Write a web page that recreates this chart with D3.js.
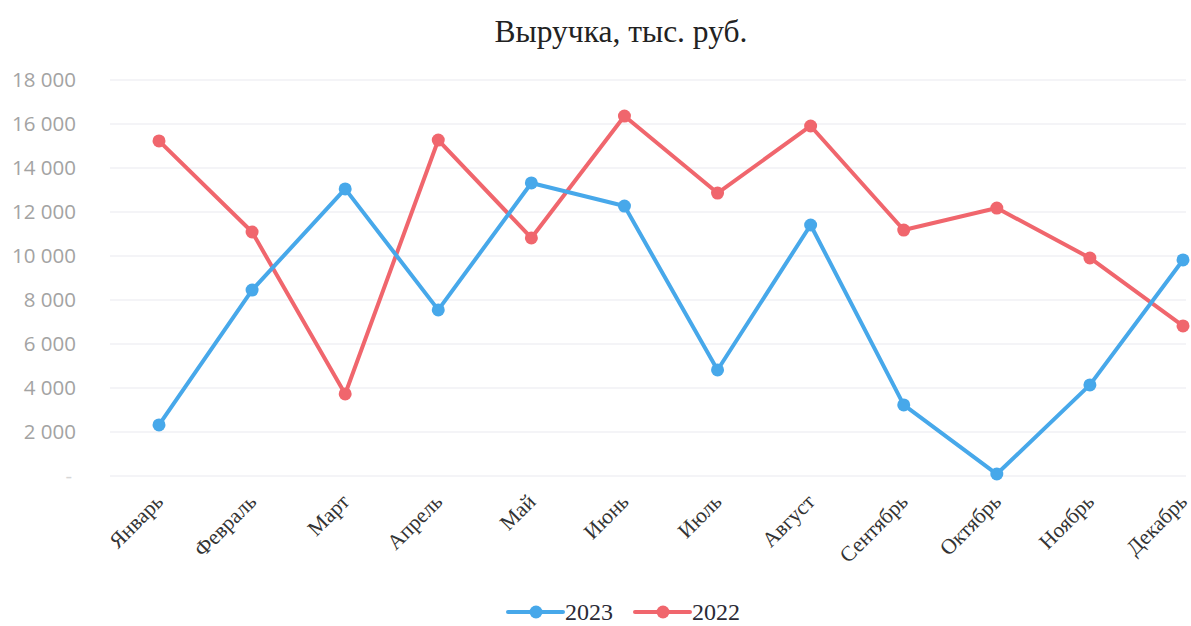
<!DOCTYPE html>
<html>
<head>
<meta charset="utf-8">
<script src="https://cdn.jsdelivr.net/npm/d3@7"></script>
<style>
  body { margin: 0; background: #fff; }
  svg { display: block; }
</style>
</head>
<body>
<div id="chart"></div>
<script>
var months = ["Январь", "Февраль", "Март", "Апрель", "Май", "Июнь",
  "Июль", "Август", "Сентябрь", "Октябрь", "Ноябрь", "Декабрь"];
var sales2023 = [2320, 8450, 13050, 7550, 13320, 12270, 4820, 11410, 3230, 90, 4140, 9820];
var sales2022 = [15230, 11090, 3730, 15270, 10820, 16360, 12860, 15910, 11180, 12180, 9910, 6820];
var yTicks = [0, 2000, 4000, 6000, 8000, 10000, 12000, 14000, 16000, 18000];

var svgWidth = 1191;
var svgHeight = 626;

var svg = d3.select("#chart")
  .append("svg")
  .attr("width", svgWidth)
  .attr("height", svgHeight);

// scales
var x = d3.scalePoint()
  .domain(months)
  .range([159, 1183]);

var y = d3.scaleLinear()
  .domain([0, 18000])
  .range([476, 80]);

var fmt = function(d) {
  if (d === 0) return "-";
  return d3.format(",")(d).replace(",", " ");
};

// title
svg.append("text")
  .attr("x", 621)
  .attr("y", 42)
  .attr("text-anchor", "middle")
  .style("font-family", "'Liberation Serif', 'DejaVu Serif', serif")
  .style("font-size", "31.5px")
  .style("fill", "#222")
  .text("Выручка, тыс. руб.");

// grid lines
svg.append("g")
  .selectAll("line")
  .data(yTicks)
  .enter()
  .append("line")
  .attr("x1", 110)
  .attr("x2", 1186)
  .attr("y1", d => y(d))
  .attr("y2", d => y(d))
  .attr("stroke", "#f1f1f4")
  .attr("stroke-width", 1.5);

// y axis labels
var leftAxis = d3.axisLeft(y)
  .tickValues(yTicks)
  .tickFormat(fmt)
  .tickSize(0)
  .tickPadding(0);

var yAxis = svg.append("g")
  .attr("transform", "translate(76, 0)")
  .call(leftAxis);
yAxis.select(".domain").remove();
yAxis.selectAll("text")
  .style("font-family", "'Open Sans', sans-serif")
  .style("font-size", "20.5px")
  .style("fill", "#a3a3a3");
yAxis.selectAll(".tick")
  .filter(d => d === 0)
  .select("text")
  .attr("x", -4)
  .style("fill", "#d6d6d6");

// x axis labels
var bottomAxis = d3.axisBottom(x).tickSize(0).tickPadding(0);
var xAxis = svg.append("g")
  .attr("transform", "translate(0, 494)")
  .call(bottomAxis);
xAxis.select(".domain").remove();
xAxis.selectAll("text")
  .attr("dy", 0)
  .attr("y", 0)
  .attr("x", 0)
  .attr("text-anchor", "end")
  .attr("transform", "translate(5, 9) rotate(-45)")
  .style("font-family", "'Liberation Serif', 'DejaVu Serif', serif")
  .style("font-size", "21.5px")
  .style("fill", "#333");

// lines
var series = [
  { name: "2023", values: sales2023, color: "#47a8ea" },
  { name: "2022", values: sales2022, color: "#f0666d" }
];

var line = d3.line()
  .x((d, i) => x(months[i]))
  .y(d => y(d));

series.slice().reverse().forEach(function(s) {
  svg.append("path")
    .datum(s.values)
    .attr("d", line)
    .attr("fill", "none")
    .attr("stroke", s.color)
    .attr("stroke-width", 4)
    .attr("stroke-linejoin", "round");
});

series.forEach(function(s) {
  svg.append("g")
    .selectAll("circle")
    .data(s.values)
    .enter()
    .append("circle")
    .attr("cx", (d, i) => x(months[i]))
    .attr("cy", d => y(d))
    .attr("r", 6.5)
    .attr("fill", s.color);
});

// legend
var legend = svg.append("g").attr("transform", "translate(508, 612)");
series.forEach(function(s, i) {
  var g = legend.append("g").attr("transform", `translate(${i * 127}, 0)`);
  g.append("line")
    .attr("x1", 0).attr("x2", 55)
    .attr("y1", 0).attr("y2", 0)
    .attr("stroke", s.color)
    .attr("stroke-width", 4)
    .attr("stroke-linecap", "round");
  g.append("circle")
    .attr("cx", 28).attr("cy", 0).attr("r", 6.5)
    .attr("fill", s.color);
  g.append("text")
    .attr("x", 57)
    .attr("y", 8)
    .style("font-family", "'Liberation Serif', 'DejaVu Serif', serif")
    .style("font-size", "24px")
    .style("fill", "#2a2a35")
    .text(s.name);
});
</script>
</body>
</html>
